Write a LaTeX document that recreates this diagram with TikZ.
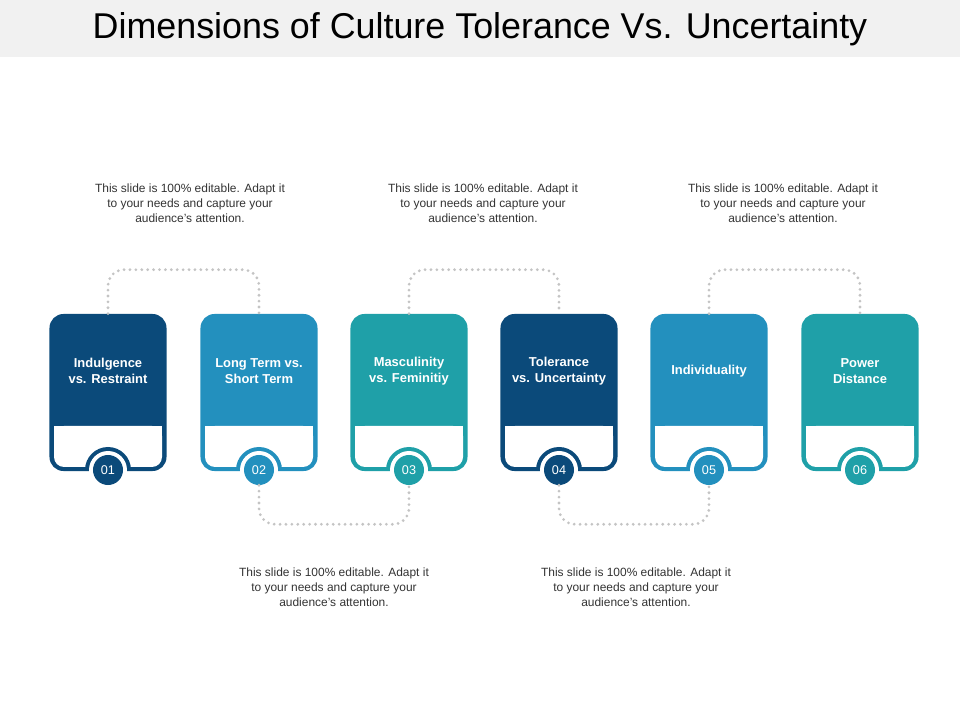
\documentclass[tikz,border=0pt]{standalone}
\usepackage{fontspec}
\setmainfont{Liberation Sans}
\usetikzlibrary{positioning}
\definecolor{darkblue}{HTML}{0B4A7A}
\definecolor{midblue}{HTML}{2390BE}
\definecolor{tealc}{HTML}{1FA0A8}
\definecolor{dotgray}{HTML}{C4C4C4}
\definecolor{bandgray}{HTML}{F1F1F1}

\begin{document}
\begin{tikzpicture}[
  x=0.025cm, y=-0.025cm,
  card/.style={draw=none, rounded corners=0.35cm, minimum width=2.925cm, minimum height=3.925cm, inner sep=0pt},
  numdot/.style={circle, minimum size=0.75cm, inner sep=0pt, text=white, font=\fontsize{9}{10}\selectfont},
  cardtext/.style={text=white, align=center, font=\bfseries\fontsize{9.2}{11}\selectfont},
  note/.style={align=center, text=black!80, font=\fontsize{8.5}{10.5}\selectfont},
  dotline/.style={draw=dotgray, line width=2.2pt, line cap=round, dash pattern=on 0pt off 4.2pt, rounded corners=0.4cm}
]
\useasboundingbox (0,0) rectangle (960,720);
\fill[bandgray] (0,0) rectangle (960,57);
\node (title) at (480,29) {\fontsize{25.5}{30}\selectfont Dimensions of Culture Tolerance Vs. Uncertainty};

% cards
\foreach \i/\x/\col/\lbl in {1/108/darkblue/{Indulgence\\vs. Restraint},
  2/259/midblue/{Long Term vs.\\Short Term},
  3/409/tealc/{Masculinity\\vs. Feminitiy},
  4/559/darkblue/{Tolerance\\vs. Uncertainty},
  5/709/midblue/{Individuality},
  6/860/tealc/{Power\\Distance}} {
  \node[card, fill=\col] (c\i) at (\x,392.5) {};
  \fill[white, rounded corners=0.25cm] (\x-54,426) -- (\x+54,426) -- (\x+54,467) -- (\x-54,467) -- cycle;
  \fill[white] (\x-54,426) rectangle (\x+54,440);
  \begin{scope}
    \clip (\x-60,430) rectangle (\x+60,471);
    \fill[\col] (\x,470) circle (23);
  \end{scope}
  \fill[white] (\x,470) circle (19);
  \node[numdot, fill=\col] (n\i) at (\x,470) {0\i};
  \node[cardtext] (t\i) at (\x,371) {\lbl};
}

% connectors
\draw[dotline] (c1.north) -- ++(0,-44) -| (c2.north);
\draw[dotline] (c3.north) -- ++(0,-44) -| (c4.north);
\draw[dotline] (c5.north) -- ++(0,-44) -| (c6.north);
\draw[dotline] (n2.south) -- ++(0,39) -| (n3.south);
\draw[dotline] (n4.south) -- ++(0,39) -| (n5.south);

% notes
\foreach \j/\x/\y in {a/190/203, b/483/203, c/783/203, d/334/587, e/636/587}
  \node[note] (note\j) at (\x,\y) {This slide is 100\% editable. Adapt it\\to your needs and capture your\\audience's attention.};
\end{tikzpicture}
\end{document}
